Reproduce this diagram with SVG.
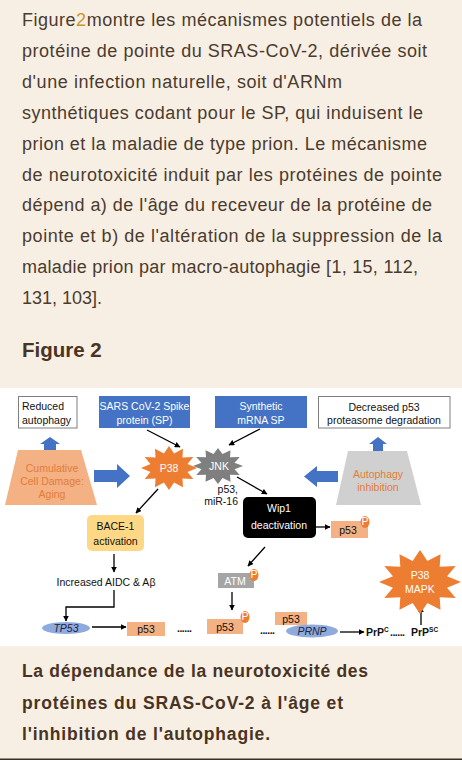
<svg xmlns="http://www.w3.org/2000/svg" width="462" height="760" viewBox="0 0 462 760">
<defs>
<style>
.para{font-family:"Liberation Sans",Arial,sans-serif;font-size:18px;fill:#4b3b2e}
.title{font-family:"Liberation Sans",Arial,sans-serif;font-size:20.5px;font-weight:bold;fill:#4a3322}
.cap{font-family:"Liberation Sans",Arial,sans-serif;font-size:17.5px;font-weight:bold;fill:#4a3322}
.d{font-family:"Liberation Sans",Arial,sans-serif;font-size:10.5px;fill:#111}
.w{font-family:"Liberation Sans",Arial,sans-serif;font-size:10.5px;fill:#fff}
.c{text-anchor:middle}
.or{fill:#e37c3a}
.it{font-style:italic;fill:#1e2440}
.b{font-weight:bold}
.blue{fill:#4472c4}
.p53{fill:#f4b183}
.pc{fill:#ed7d31}
.ell{fill:#8faadc}
.conn{stroke:#000;stroke-width:1.3;fill:none;marker-end:url(#ah)}
</style>
<marker id="ah" viewBox="0 0 10 10" refX="9" refY="5" markerWidth="4.5" markerHeight="4.5" orient="auto"><path d="M0,0 L10,5 L0,10 z" fill="#000"/></marker>
<path id="star" d="M1,0 L0.66,0.18 L0.87,0.5 L0.48,0.48 L0.5,0.87 L0.18,0.66 L0,1 L-0.18,0.66 L-0.5,0.87 L-0.48,0.48 L-0.87,0.5 L-0.66,0.18 L-1,0 L-0.66,-0.18 L-0.87,-0.5 L-0.48,-0.48 L-0.5,-0.87 L-0.18,-0.66 L0,-1 L0.18,-0.66 L0.5,-0.87 L0.48,-0.48 L0.87,-0.5 L0.66,-0.18 Z"/>
</defs>
<rect x="0" y="0" width="462" height="760" fill="#f8efe4"/>
<rect x="0" y="388" width="462" height="258" fill="#ffffff"/>
<rect x="0" y="758.5" width="462" height="1.5" fill="#3a302a"/>

<g id="paragraph">
<text class="para" x="22" y="26" textLength="400" lengthAdjust="spacing">Figure<tspan fill="#c9962c">2</tspan>montre les mécanismes potentiels de la</text>
<text class="para" x="22" y="56.9" textLength="405" lengthAdjust="spacing">protéine de pointe du SRAS-CoV-2, dérivée soit</text>
<text class="para" x="22" y="87.8" textLength="320" lengthAdjust="spacing">d'une infection naturelle, soit d'ARNm</text>
<text class="para" x="22" y="118.7" textLength="401" lengthAdjust="spacing">synthétiques codant pour le SP, qui induisent le</text>
<text class="para" x="22" y="149.6" textLength="405" lengthAdjust="spacing">prion et la maladie de type prion. Le mécanisme</text>
<text class="para" x="22" y="180.5" textLength="420" lengthAdjust="spacing">de neurotoxicité induit par les protéines de pointe</text>
<text class="para" x="22" y="211.4" textLength="410" lengthAdjust="spacing">dépend a) de l'âge du receveur de la protéine de</text>
<text class="para" x="22" y="242.3" textLength="420" lengthAdjust="spacing">pointe et b) de l'altération de la suppression de la</text>
<text class="para" x="22" y="273.2" textLength="396" lengthAdjust="spacing">maladie prion par macro-autophagie [1, 15, 112,</text>
<text class="para" x="22" y="304.1" textLength="80" lengthAdjust="spacing">131, 103].</text>
<text class="title" x="22" y="357">Figure 2</text>
</g>

<g id="connectors">
<path class="conn" d="M147,430 L180,447"/>
<path class="conn" d="M260,429 L229,445"/>
<path class="conn" d="M237,477 L267,494"/>
<path class="conn" d="M158,489 L136,513"/>
<path class="conn" d="M114,554 L114,572"/>
<path class="conn" d="M114,590 L114,607 L66,607 L66,621"/>
<path class="conn" d="M92,627 L126,627"/>
<path class="conn" d="M316,527 L330,527"/>
<path class="conn" d="M265,547 L248,566"/>
<path class="conn" d="M232,592 L232,610"/>
<path class="conn" d="M340,632 L364,632"/>
<path class="conn" d="M421,625 L421,607"/>
<polygon class="blue" points="50,437 60,444 56,444 56,451 44,451 44,444 40,444"/>
<polygon class="blue" points="94,470 117,470 117,464 130,476 117,488 117,482 94,482"/>
<polygon class="blue" points="338,471 317,471 317,466 304,476.5 317,487 317,482 338,482"/>
<polygon class="blue" points="378,437 387,444 383,444 383,451 373,451 373,444 369,444"/>
</g>

<g id="reduced-autophagy">
<rect x="18.5" y="396.5" width="58.5" height="31.5" fill="#fff" stroke="#7f7f7f" stroke-width="1"/>
<text class="d" x="22" y="410">Reduced</text>
<text class="d" x="22" y="424">autophagy</text>
</g>
<g id="sars-sp">
<rect x="99" y="396" width="91" height="32" class="blue"/>
<text class="w c" x="144.5" y="410" font-size="10">SARS CoV-2 Spike</text>
<text class="w c" x="144.5" y="424" font-size="10">protein (SP)</text>
</g>
<g id="synthetic-mrna">
<rect x="215" y="396" width="92" height="32" class="blue"/>
<text class="w c" x="261" y="410">Synthetic</text>
<text class="w c" x="261" y="424">mRNA SP</text>
</g>
<g id="decreased-p53">
<rect x="318.5" y="396.5" width="131.5" height="31.5" fill="#fff" stroke="#7f7f7f" stroke-width="1"/>
<text class="d c" x="384" y="411">Decreased p53</text>
<text class="d c" x="384" y="424">proteasome degradation</text>
</g>
<g id="cumulative">
<polygon points="18,450 81,450 97,505 5,505" fill="#f4b183"/>
<text class="d c or" x="52" y="472">Cumulative</text>
<text class="d c or" x="52" y="485">Cell Damage:</text>
<text class="d c or" x="52" y="498">Aging</text>
</g>
<g id="autophagy-inhibition">
<polygon points="348,451 407,451 421,505 336,505" fill="#d0d0d0"/>
<text class="d c or" x="378" y="478">Autophagy</text>
<text class="d c or" x="378" y="491">inhibition</text>
</g>
<g id="jnk">
<use href="#star" transform="translate(218,466) scale(25,18)" fill="#7f7f7f"/>
<text class="w c" x="219" y="470">JNK</text>
<text class="d" x="238" y="493" text-anchor="end" font-size="9">p53,</text>
<text class="d" x="238" y="505" text-anchor="end" font-size="9">miR-16</text>
</g>
<g id="p38">
<use href="#star" transform="translate(169,468) scale(28,22)" fill="#ed7d31"/>
<text class="w c" x="169" y="472">P38</text>
</g>
<g id="wip1">
<rect x="243" y="497" width="73" height="41" rx="5" fill="#000"/>
<text class="w c" x="279" y="512">Wip1</text>
<text class="w c" x="279" y="529">deactivation</text>
</g>
<g id="p53-wip">
<rect x="331" y="521" width="37" height="17" class="p53"/>
<text class="d c" x="348" y="534">p53</text>
<ellipse cx="365" cy="522" rx="4.5" ry="6" class="pc"/>
<text class="w c" x="365" y="525" font-size="6.5">P</text>
</g>
<g id="bace1">
<rect x="87" y="515" width="57" height="36" rx="5" fill="#fed884"/>
<text class="d c" x="115.5" y="530">BACE-1</text>
<text class="d c" x="115.5" y="545">activation</text>
</g>
<g id="aidc">
<text class="d c" x="106" y="586">Increased AIDC &amp;  Aβ</text>
</g>
<g id="atm">
<rect x="218" y="573" width="36" height="15" fill="#a5a5a5"/>
<text class="w c" x="235" y="585">ATM</text>
<ellipse cx="254" cy="575" rx="4.5" ry="6" class="pc"/>
<text class="w c" x="254" y="578" font-size="6.5">P</text>
</g>
<g id="tp53">
<ellipse cx="66" cy="628" rx="24" ry="6" class="ell"/>
<text class="d c it" x="66" y="631.5" font-size="9">TP53</text>
</g>
<g id="p53-a">
<rect x="127" y="622" width="38" height="14" class="p53"/>
<text class="d c" x="146" y="633">p53</text>
</g>
<text class="d b" x="177" y="632" font-size="8" letter-spacing="-0.5">......</text>
<g id="p53-b">
<rect x="207" y="619" width="36" height="15" class="p53"/>
<text class="d c" x="225" y="631">p53</text>
<ellipse cx="245" cy="617" rx="4.5" ry="6" class="pc"/>
<text class="w c" x="245" y="620" font-size="6.5">P</text>
</g>
<text class="d b" x="260" y="634" font-size="8" letter-spacing="-0.5">......</text>
<g id="p53-c">
<rect x="275" y="612" width="32" height="13" class="p53"/>
<text class="d c" x="291" y="623">p53</text>
</g>
<g id="prnp">
<ellipse cx="312" cy="631" rx="26" ry="6.5" class="ell"/>
<text class="d c it" x="312" y="634.5" font-size="9.5">PRNP</text>
</g>
<g id="prpc">
<text class="d b" x="366" y="636" font-size="10">PrP<tspan font-size="6.5" dy="-4">C</tspan></text>
</g>
<text class="d b" x="390" y="636" font-size="8" letter-spacing="-0.5">......</text>
<g id="prpsc">
<text class="d b" x="411" y="636" font-size="10">PrP<tspan font-size="6.5" dy="-4">SC</tspan></text>
</g>
<g id="p38-mapk">
<use href="#star" transform="translate(420,582) scale(41,32)" fill="#ed7d31"/>
<text class="w c" x="420" y="579" font-size="12">P38</text>
<text class="w c" x="420" y="593" font-size="12">MAPK</text>
</g>

<g id="caption">
<text class="cap" x="22" y="677" textLength="346" lengthAdjust="spacing">La dépendance de la neurotoxicité des</text>
<text class="cap" x="22" y="708.5" textLength="321" lengthAdjust="spacing">protéines du SRAS-CoV-2 à l'âge et</text>
<text class="cap" x="22" y="740" textLength="248" lengthAdjust="spacing">l'inhibition de l'autophagie.</text>
</g>
</svg>
